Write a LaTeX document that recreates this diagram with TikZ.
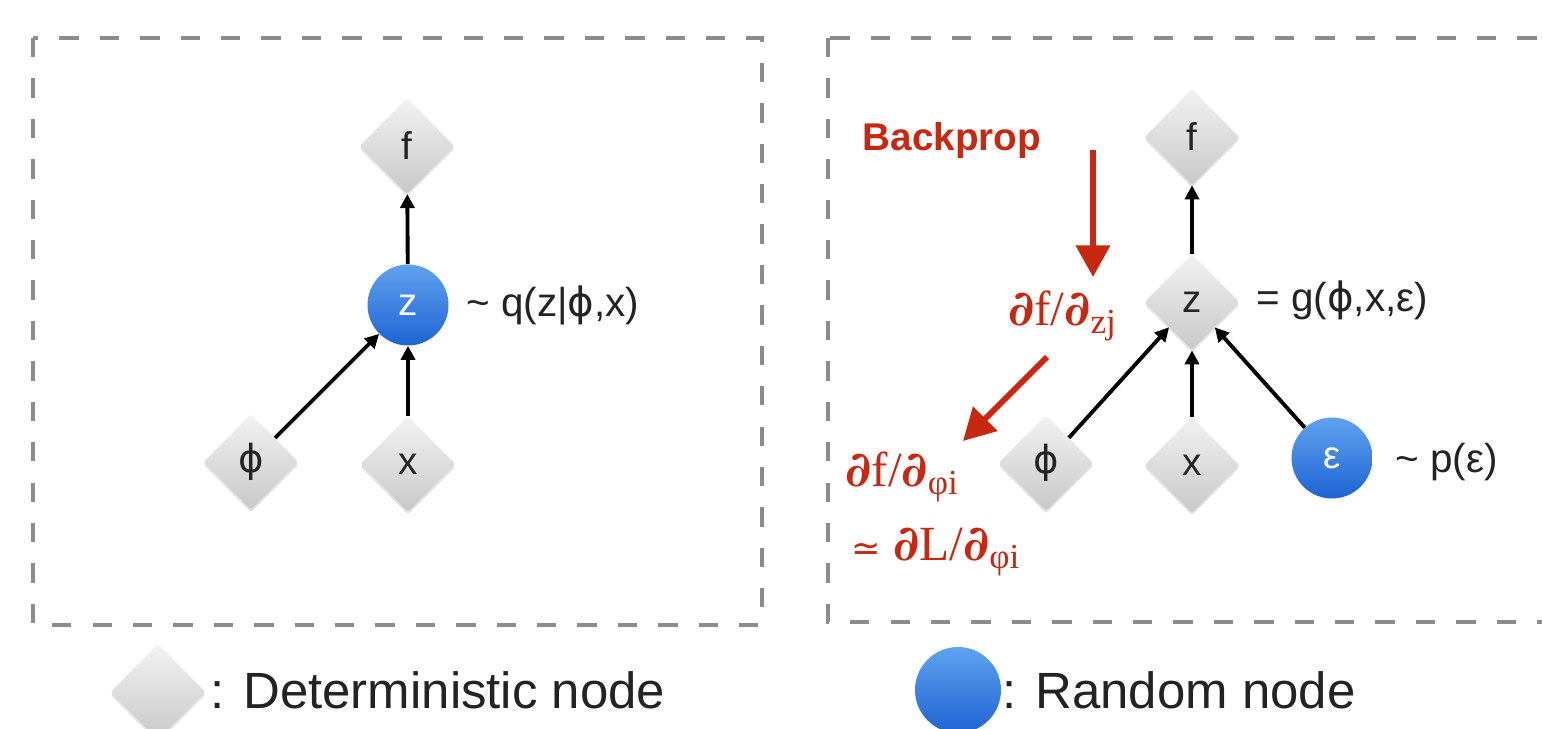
\documentclass[tikz,border=0pt]{standalone}
\usepackage{fontspec}
\setmainfont{Liberation Sans}
\newfontfamily\serifred{Liberation Serif}
\newfontfamily\dvs{DejaVu Sans}
\newfontfamily\dvserif{DejaVu Serif}
\usetikzlibrary{shapes.geometric,arrows.meta,shadows}
\definecolor{boxgray}{RGB}{140,140,140}
\definecolor{redA}{RGB}{200,40,18}
\definecolor{blueTop}{RGB}{95,162,240}
\definecolor{blueBot}{RGB}{30,100,210}
\definecolor{dTop}{RGB}{242,242,242}
\definecolor{dBot}{RGB}{200,200,200}
\definecolor{txt}{RGB}{35,35,35}
\newcommand\phig{{\dvs ϕ}}
\newcommand\subx[1]{\raisebox{-0.35ex}{\fontsize{20}{20}\selectfont #1}}
\newcommand\pd{{\dvserif\bfseries ∂}}
\begin{document}
\begin{tikzpicture}[x=0.02cm,y=-0.02cm,
  detnode/.style={diamond, minimum width=1.9cm, minimum height=1.92cm, inner sep=0pt,
    rounded corners=1.5pt, top color=dTop, bottom color=dBot, draw=none,
    drop shadow={opacity=0.22,shadow xshift=0pt,shadow yshift=-1.5pt},
    font=\fontsize{22}{24}\selectfont, text=txt},
  rndnode/.style={circle, minimum size=1.62cm, inner sep=0pt,
    top color=blueTop, bottom color=blueBot, draw=none,
    font=\fontsize{22}{24}\selectfont, text=white},
  frame/.style={draw=boxgray, line width=2pt, dash pattern=on 11pt off 12pt},
  conn/.style={draw=black, line width=2.2pt, -{Triangle[length=8pt,width=8pt]}},
  bparrow/.style={draw=redA, line width=3.4pt, -{Triangle[length=18pt,width=19pt]}},
  side/.style={anchor=west, font=\fontsize{23}{26}\selectfont, inner sep=0pt, text=txt},
  redtext/.style={inner sep=0pt, text=redA, font=\serifred\fontsize{28}{32}\selectfont},
  legtext/.style={anchor=west, inner sep=0pt, font=\fontsize{29}{33}\selectfont, text=txt}]
\useasboundingbox (0,0) rectangle (1542,729);

% frames
\draw[frame] (33,38) rectangle (762,625);
\draw[frame] (828,38) rectangle (1548,622);

% left graph
\node[detnode] (lf) at (407,146) {f};
\node[rndnode] (lz) at (408,305) {z};
\node[detnode] (lphi) at (251,462) {\phig};
\node[detnode] (lx) at (408,464) {x};
\node[side] (lzlab) at (466,305) {\textasciitilde{} q(z|\phig,x)};
\draw[conn] (lz) -- (lf);
\draw[conn] (lphi) -- (lz);
\draw[conn] (lx) -- (lz);

% right graph
\node[detnode] (rf) at (1192,137) {f};
\node[detnode] (rz) at (1192,302) {z};
\node[detnode] (rphi) at (1046,463) {\phig};
\node[detnode] (rx) at (1192,465) {x};
\node[rndnode] (reps) at (1332,458) {ε};
\node[side] (rzlab) at (1256,300) {= g(\phig,x,ε)};
\node[side] (repslab) at (1395,462) {\textasciitilde{} p(ε)};
\draw[conn] (rz) -- (rf);
\draw[conn] (rphi) -- (rz);
\draw[conn] (rx) -- (rz);
\draw[conn] (reps) -- (rz);

% backprop annotations
\node[inner sep=0pt, text=redA, font=\bfseries\fontsize{22}{24}\selectfont] (bp) at (952,141) {Backprop};
\coordinate (bpa) at (1093,150);
\coordinate (bpb) at (1093,277);
\draw[bparrow] (bpa) -- (bpb);
\node[redtext] (dz) at (1062,316) {\pd f/\pd\subx{zj}};
\coordinate (bpc) at (1047,357);
\coordinate (bpd) at (963,441);
\draw[bparrow] (bpc) -- (bpd);
\node[redtext, anchor=west] (dphi) at (845,477) {\pd f/\pd\subx{φi}};
\node[redtext, anchor=west] (dL) at (851,552) {{\dvs\fontsize{20}{24}\selectfont ≃} \pd L/\pd\subx{φi}};

% legend
\node[detnode] (legd) at (158,692) {};
\node[legtext] (legdt) at (210,690) {: Deterministic node};
\node[rndnode, minimum size=1.72cm] (legr) at (958,690) {};
\node[legtext] (legrt) at (1002,690) {: Random node};
\end{tikzpicture}
\end{document}
